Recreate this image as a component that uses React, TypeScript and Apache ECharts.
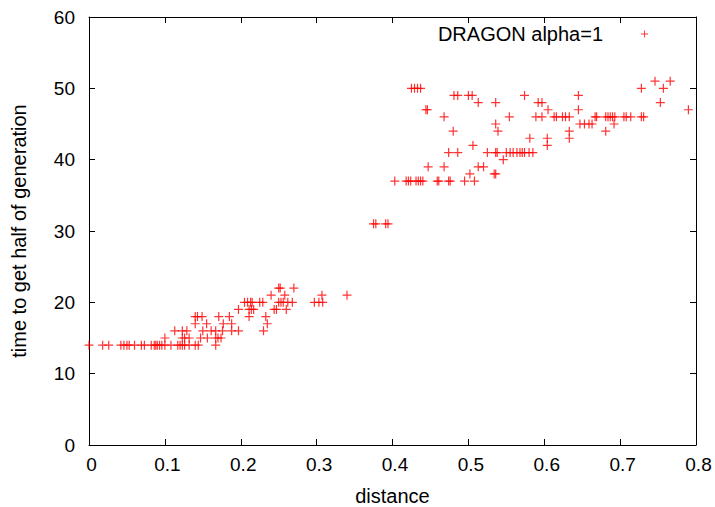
import React, { useEffect, useRef } from "react";
import * as echarts from "echarts";

// distance values grouped by "time to get half of generation"
const d14 = [0, 0.018, 0.026, 0.042, 0.046, 0.05, 0.053, 0.06, 0.069, 0.073, 0.082, 0.086, 0.088, 0.09, 0.093, 0.096, 0.1, 0.108, 0.117, 0.12, 0.123, 0.126, 0.132, 0.14, 0.144, 0.167];
const d15 = [0.1, 0.123, 0.126, 0.132, 0.147, 0.156, 0.167, 0.17, 0.174];
const d16 = [0.113, 0.123, 0.129, 0.15, 0.161, 0.167, 0.176, 0.188, 0.197, 0.23];
const d17 = [0.14, 0.155, 0.177, 0.188, 0.235];
const d18 = [0.14, 0.143, 0.149, 0.171, 0.185, 0.211, 0.233];
const d19 = [0.197, 0.211, 0.214, 0.217, 0.244, 0.247, 0.26];
const d20 = [0.205, 0.209, 0.213, 0.215, 0.225, 0.229, 0.25, 0.253, 0.256, 0.262, 0.268, 0.297, 0.303, 0.308];
const d21 = [0.24, 0.258, 0.307, 0.34];
const d22 = [0.25, 0.252, 0.27];
const d31 = [0.375, 0.378, 0.391, 0.394];
const d37 = [0.403, 0.418, 0.421, 0.424, 0.431, 0.434, 0.437, 0.44, 0.459, 0.461, 0.474, 0.476, 0.495, 0.508];
const d38 = [0.502, 0.534, 0.536];
const d39 = [0.447, 0.468, 0.513, 0.52];
const d40 = [0.546];
const d41 = [0.474, 0.486, 0.525, 0.536, 0.538, 0.55, 0.555, 0.559, 0.564, 0.568, 0.571, 0.574, 0.58, 0.585];
const d42 = [0.506, 0.604];
const d43 = [0.581, 0.604, 0.633];
const d44 = [0.48, 0.539, 0.633, 0.681];
const d45 = [0.536, 0.647, 0.653, 0.659, 0.663, 0.692];
const d46 = [0.468, 0.554, 0.589, 0.597, 0.613, 0.616, 0.624, 0.628, 0.633, 0.667, 0.669, 0.681, 0.684, 0.687, 0.69, 0.693, 0.705, 0.708, 0.714, 0.728, 0.731];
const d47 = [0.444, 0.446, 0.605, 0.645, 0.79];
const d48 = [0.513, 0.536, 0.592, 0.597, 0.753];
const d49 = [0.481, 0.486, 0.5, 0.505, 0.574, 0.645];
const d50 = [0.425, 0.429, 0.433, 0.437, 0.728, 0.757];
const d51 = [0.746, 0.766];

const levels: [number, number[]][] = [
  [14, d14], [15, d15], [16, d16], [17, d17], [18, d18], [19, d19], [20, d20],
  [21, d21], [22, d22], [31, d31], [37, d37], [38, d38], [39, d39], [40, d40],
  [41, d41], [42, d42], [43, d43], [44, d44], [45, d45], [46, d46], [47, d47],
  [48, d48], [49, d49], [50, d50], [51, d51],
];

const seriesName = "DRAGON alpha=1";
const xName = "distance";
const yName = "time to get half of generation";

const PLUS = "path://M0,3.9h9v1.2h-9zM3.9,0h1.2v9h-1.2z";
const FONT = "Liberation Sans, Arial, Helvetica, sans-serif";

export default function App() {
  const ref = useRef<HTMLDivElement>(null);
  useEffect(() => {
    const chart = echarts.init(ref.current!, null, { renderer: "svg" });
    const data: number[][] = [];
    levels.forEach(([t, ds]) => ds.forEach((d) => data.push([d, t])));
    const axisLine = { show: true, onZero: false, lineStyle: { color: "#000", width: 1 } };
    const axisTick = { show: true, inside: true, length: 6, lineStyle: { color: "#000", width: 1 } };
    chart.setOption({
      animation: false,
      backgroundColor: "#fff",
      textStyle: { fontFamily: FONT },
      grid: { left: 89, right: 19, top: 17, bottom: 62, containLabel: false, outerBoundsMode: "none" },
      legend: {
        data: [{ name: seriesName, icon: PLUS }],
        align: "right",
        right: 67,
        top: 24,
        padding: 0,
        itemWidth: 7,
        itemHeight: 7,
        selectedMode: false,
        textStyle: { fontSize: 20, color: "#000", fontFamily: FONT, padding: [0, 33, 0, 0] },
      },
      xAxis: [
        {
          type: "value", min: 0, max: 0.8, interval: 0.1, position: "bottom",
          axisLine, axisTick,
          axisLabel: { color: "#000", fontSize: 19, fontFamily: FONT, margin: 10, padding: [0, 0, 0, 5] },
          splitLine: { show: false },
          name: xName, nameLocation: "middle", nameGap: 41,
          nameTextStyle: { color: "#000", fontSize: 20, fontFamily: FONT },
        },
        {
          type: "value", min: 0, max: 0.8, interval: 0.1, position: "top",
          axisLine, axisTick, axisLabel: { show: false }, splitLine: { show: false },
        },
      ],
      yAxis: [
        {
          type: "value", min: 0, max: 60, interval: 10, position: "left",
          axisLine, axisTick,
          axisLabel: { color: "#000", fontSize: 19, fontFamily: FONT, margin: 14 },
          splitLine: { show: false },
          name: yName, nameLocation: "middle", nameGap: 60, nameRotate: 90,
          nameTextStyle: { color: "#000", fontSize: 20, fontFamily: FONT },
        },
        {
          type: "value", min: 0, max: 60, interval: 10, position: "right",
          axisLine, axisTick, axisLabel: { show: false }, splitLine: { show: false },
        },
      ],
      series: [
        {
          name: seriesName,
          type: "scatter",
          symbol: PLUS,
          symbolSize: 9,
          itemStyle: { color: "#ff0000" },
          data,
        },
      ],
    });
    return () => chart.dispose();
  }, []);
  return <div ref={ref} style={{ position: "absolute", left: 0, top: 0, width: 715, height: 507 }} />;
}
